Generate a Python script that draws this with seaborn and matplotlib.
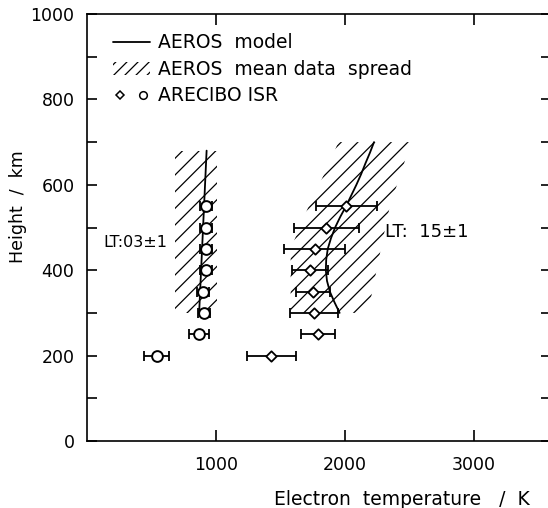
import seaborn as sns
import matplotlib.pyplot as plt
from matplotlib.lines import Line2D
from matplotlib.patches import Patch
from matplotlib.legend_handler import HandlerTuple

# ARECIBO ISR, LT 03 (circles)
night_h = [200, 250, 300, 350, 400, 450, 500, 550]
night_t = [540, 868, 907, 902, 923, 922, 922, 922]
night_err = [100, 80, 45, 45, 45, 45, 45, 45]

# ARECIBO ISR, LT 15 (diamonds)
day_h = [200, 250, 300, 350, 400, 450, 500, 550]
day_t = [1431, 1793, 1760, 1755, 1729, 1767, 1858, 2013]
day_err = [190, 130, 185, 133, 142, 235, 250, 240]

# AEROS model
night_model_h = [300, 680]
night_model_t = [870, 928]
day_model_h = [300, 325, 350, 375, 400, 425, 450, 475, 500, 525, 550, 575, 600, 625, 650, 675, 700]
day_model_t = [1960, 1920, 1884, 1862, 1853, 1856, 1868, 1893, 1925, 1965, 2010, 2050, 2090, 2127, 2160, 2195, 2227]

# AEROS mean data spread
night_spread_h = [300, 680]
night_spread_lo = [680, 680]
night_spread_hi = [1010, 1010]
day_spread_h = [300, 450, 550, 650, 700]
day_spread_lo = [1580, 1580, 1720, 1880, 1950]
day_spread_hi = [2180, 2280, 2350, 2460, 2510]

sns.set_theme(style="ticks")
plt.rcParams['font.family'] = ['DejaVu Sans']
plt.rcParams.update({'text.color': 'black', 'axes.labelcolor': 'black',
                     'xtick.color': 'black', 'ytick.color': 'black',
                     'hatch.linewidth': 0.9, 'hatch.color': 'black'})

fig = plt.figure(figsize=(5.48, 5.08), dpi=100)
ax = fig.add_axes([87 / 548, 67 / 508, 464 / 548, 427 / 508])

for h, lo, hi in [(night_spread_h, night_spread_lo, night_spread_hi),
                  (day_spread_h, day_spread_lo, day_spread_hi)]:
    ax.fill_betweenx(h, lo, hi, facecolor='none', edgecolor='black', linewidth=0, hatch='//')

sns.lineplot(x=night_model_t, y=night_model_h, sort=False, estimator=None, color='black', lw=1.3, ax=ax)
sns.lineplot(x=day_model_t, y=day_model_h, sort=False, estimator=None, color='black', lw=1.3, ax=ax)

ax.errorbar(night_t, night_h, xerr=night_err, fmt='none', ecolor='black', elinewidth=1.3,
            capsize=3.5, capthick=1.3, zorder=3)
ax.errorbar(day_t, day_h, xerr=day_err, fmt='none', ecolor='black', elinewidth=1.3,
            capsize=3.5, capthick=1.3, zorder=3)
sns.scatterplot(x=night_t, y=night_h, marker='o', s=60, facecolor='white', edgecolor='black',
                linewidth=1.4, zorder=4, ax=ax)
sns.scatterplot(x=day_t, y=day_h, marker='D', s=28, facecolor='white', edgecolor='black',
                linewidth=1.3, zorder=4, ax=ax)

ax.text(124, 464, 'LT:03±1', fontsize=11.5, ha='left', va='center')
ax.text(2310, 489, 'LT:  15±1', fontsize=13, ha='left', va='center')

ax.set_xlim(0, 3600)
ax.set_ylim(0, 1000)
ax.set_xticks([1000, 2000, 3000])
ax.set_yticks([0, 200, 400, 600, 800, 1000])
ax.set_yticks([100, 300, 500, 700, 900], minor=True)
ax.tick_params(which='both', direction='in', top=True, right=True, width=1.2, labelsize=12.5)
ax.tick_params(axis='y', which='both', length=7, pad=9)
ax.tick_params(axis='x', which='both', length=8, pad=11)
for s in ax.spines.values():
    s.set_linewidth(1.2)
    s.set_color('black')

ax.set_ylabel('Height  /  km', fontsize=12.5, va='center')
ax.yaxis.set_label_coords(-0.148, 0.548)
ax.set_xlabel('Electron  temperature   /  K', fontsize=13.5, ha='right', va='center')
ax.xaxis.set_label_coords(0.955, -0.136)

handles = [
    Line2D([], [], color='black', lw=1.3),
    Patch(facecolor='none', edgecolor='black', linewidth=0, hatch='///'),
    (Line2D([], [], marker='D', ls='none', ms=4.5, mfc='white', mec='black', mew=1.1),
     Line2D([], [], marker='o', ls='none', ms=5.5, mfc='white', mec='black', mew=1.1)),
]
labels = ['AEROS  model', 'AEROS  mean data  spread', 'ARECIBO ISR']
ax.legend(handles, labels, loc='upper left', bbox_to_anchor=(0.056, 0.955), frameon=False,
          fontsize=13.5, handlelength=2.0, handletextpad=0.4, labelspacing=0.4,
          borderaxespad=0, borderpad=0,
          handler_map={tuple: HandlerTuple(ndivide=None, pad=0.4)})

fig.savefig('out.png', dpi=100, facecolor='white')
